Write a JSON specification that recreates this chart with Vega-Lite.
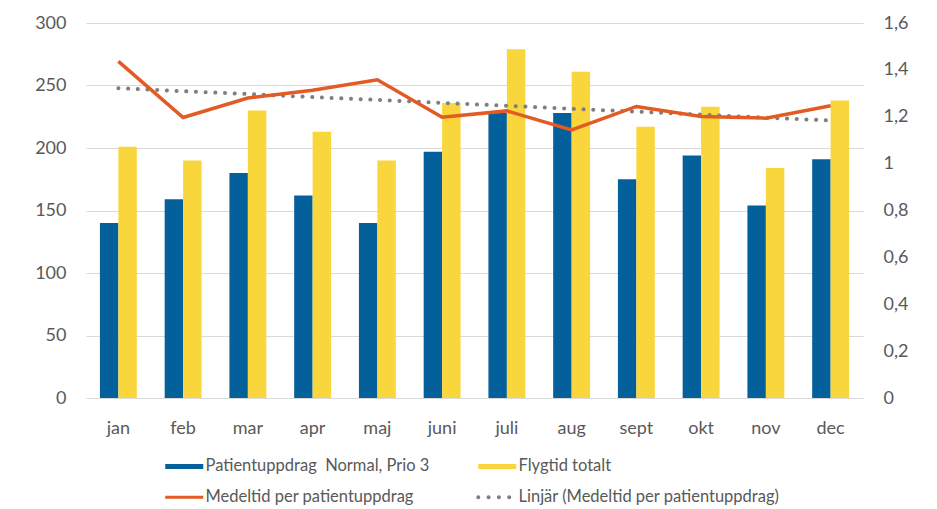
{
  "$schema": "https://vega.github.io/schema/vega-lite/v6.json",
  "width": 777,
  "height": 375,
  "autosize": "none",
  "padding": {"left": 86, "top": 23, "right": 74, "bottom": 111},
  "background": "white",
  "config": {
    "font": "Lato",
    "view": {"stroke": null},
    "axis": {"labelFont": "Lato", "labelColor": "#595959", "labelFontSize": 18}
  },
  "layer": [
    {
      "data": {
        "values": [
          {"month": "jan", "series": "Patientuppdrag\u00a0 Normal, Prio 3", "value": 140},
          {"month": "jan", "series": "Flygtid totalt", "value": 201},
          {"month": "feb", "series": "Patientuppdrag\u00a0 Normal, Prio 3", "value": 159},
          {"month": "feb", "series": "Flygtid totalt", "value": 190},
          {"month": "mar", "series": "Patientuppdrag\u00a0 Normal, Prio 3", "value": 180},
          {"month": "mar", "series": "Flygtid totalt", "value": 230},
          {"month": "apr", "series": "Patientuppdrag\u00a0 Normal, Prio 3", "value": 162},
          {"month": "apr", "series": "Flygtid totalt", "value": 213},
          {"month": "maj", "series": "Patientuppdrag\u00a0 Normal, Prio 3", "value": 140},
          {"month": "maj", "series": "Flygtid totalt", "value": 190},
          {"month": "juni", "series": "Patientuppdrag\u00a0 Normal, Prio 3", "value": 197},
          {"month": "juni", "series": "Flygtid totalt", "value": 236},
          {"month": "juli", "series": "Patientuppdrag\u00a0 Normal, Prio 3", "value": 228},
          {"month": "juli", "series": "Flygtid totalt", "value": 279},
          {"month": "aug", "series": "Patientuppdrag\u00a0 Normal, Prio 3", "value": 228},
          {"month": "aug", "series": "Flygtid totalt", "value": 261},
          {"month": "sept", "series": "Patientuppdrag\u00a0 Normal, Prio 3", "value": 175},
          {"month": "sept", "series": "Flygtid totalt", "value": 217},
          {"month": "okt", "series": "Patientuppdrag\u00a0 Normal, Prio 3", "value": 194},
          {"month": "okt", "series": "Flygtid totalt", "value": 233},
          {"month": "nov", "series": "Patientuppdrag\u00a0 Normal, Prio 3", "value": 154},
          {"month": "nov", "series": "Flygtid totalt", "value": 184},
          {"month": "dec", "series": "Patientuppdrag\u00a0 Normal, Prio 3", "value": 191},
          {"month": "dec", "series": "Flygtid totalt", "value": 238}
        ]
      },
      "mark": {"type": "bar"},
      "encoding": {
        "x": {
          "field": "month", "type": "nominal",
          "sort": ["jan", "feb", "mar", "apr", "maj", "juni", "juli", "aug", "sept", "okt", "nov", "dec"],
          "scale": {"paddingInner": 0.43, "paddingOuter": 0.215},
          "axis": {"title": null, "labelAngle": 0, "ticks": false, "domain": false, "labelPadding": 21}
        },
        "xOffset": {"field": "series", "type": "nominal", "sort": ["Patientuppdrag\u00a0 Normal, Prio 3", "Flygtid totalt"]},
        "y": {
          "field": "value", "type": "quantitative",
          "scale": {"domain": [0, 300]},
          "axis": {"title": null, "values": [0, 50, 100, 150, 200, 250, 300], "grid": true, "gridColor": "#d9d9d9", "ticks": false, "domain": false, "labelPadding": 20}
        },
        "color": {
          "field": "series", "type": "nominal",
          "scale": {
            "domain": ["Patientuppdrag\u00a0 Normal, Prio 3", "Flygtid totalt", "Medeltid per patientuppdrag", "Linjär (Medeltid per patientuppdrag)"],
            "range": ["#03609B", "#F9D63B", "#E35B24", "#7F7F7F"]
          },
          "legend": {
            "title": null,
            "orient": "none",
            "legendX": 90,
            "legendY": 435,
            "direction": "horizontal",
            "columns": 2,
            "gridAlign": "each",
            "columnPadding": 40,
            "rowPadding": 14,
            "padding": 0,
            "symbolSize": 400,
            "labelOffset": 13,
            "labelFont": "Lato",
            "labelFontSize": 16.5,
            "labelColor": "#595959",
            "labelLimit": 400,
            "encode": {
              "symbols": {
                "update": {
                  "shape": {"signal": "datum.value === 'Medeltid per patientuppdrag' ? 'M-1.9,0H1.9' : datum.value === 'Linjär (Medeltid per patientuppdrag)' ? 'M-1.9,0H1.25' : 'M-1.9,-0.25H1.9V0.25H-1.9Z'"},
                  "fill": {"signal": "(datum.value === 'Medeltid per patientuppdrag' || datum.value === 'Linjär (Medeltid per patientuppdrag)') ? 'transparent' : scale('color', datum.value)"},
                  "stroke": {"signal": "scale('color', datum.value)"},
                  "strokeWidth": {"signal": "datum.value === 'Medeltid per patientuppdrag' ? 3 : datum.value === 'Linjär (Medeltid per patientuppdrag)' ? 4 : 0"},
                  "strokeDash": {"signal": "datum.value === 'Linjär (Medeltid per patientuppdrag)' ? [0.1, 10.2] : [1, 0]"},
                  "strokeCap": {"signal": "datum.value === 'Linjär (Medeltid per patientuppdrag)' ? 'round' : 'butt'"},
                  "opacity": {"value": 1}
                }
              }
            }
          }
        }
      }
    },
    {
      "data": {
        "values": [
          {"month": "jan", "medeltid": 1.436, "trend": 1.322},
          {"month": "feb", "medeltid": 1.197, "trend": 1.309},
          {"month": "mar", "medeltid": 1.280, "trend": 1.297},
          {"month": "apr", "medeltid": 1.313, "trend": 1.284},
          {"month": "maj", "medeltid": 1.358, "trend": 1.272},
          {"month": "juni", "medeltid": 1.198, "trend": 1.259},
          {"month": "juli", "medeltid": 1.225, "trend": 1.247},
          {"month": "aug", "medeltid": 1.144, "trend": 1.234},
          {"month": "sept", "medeltid": 1.244, "trend": 1.222},
          {"month": "okt", "medeltid": 1.201, "trend": 1.209},
          {"month": "nov", "medeltid": 1.194, "trend": 1.196},
          {"month": "dec", "medeltid": 1.247, "trend": 1.184}
        ]
      },
      "layer": [
        {
          "mark": {"type": "line", "strokeWidth": 4, "strokeDash": [0.1, 9.6], "strokeCap": "round"},
          "encoding": {
            "x": {"field": "month", "type": "nominal", "sort": ["jan", "feb", "mar", "apr", "maj", "juni", "juli", "aug", "sept", "okt", "nov", "dec"]},
            "y": {
              "field": "trend", "type": "quantitative",
              "scale": {"domain": [0, 1.6]},
              "axis": {"orient": "right", "title": null, "values": [0, 0.2, 0.4, 0.6, 0.8, 1, 1.2, 1.4, 1.6], "grid": false, "ticks": false, "domain": false, "labelPadding": 20, "labelExpr": "replace(format(datum.value, '~g'), '.', ',')"}
            },
            "color": {"datum": "Linjär (Medeltid per patientuppdrag)"}
          }
        },
        {
          "mark": {"type": "line", "strokeWidth": 3.5},
          "encoding": {
            "x": {"field": "month", "type": "nominal", "sort": ["jan", "feb", "mar", "apr", "maj", "juni", "juli", "aug", "sept", "okt", "nov", "dec"]},
            "y": {"field": "medeltid", "type": "quantitative", "title": null},
            "color": {"datum": "Medeltid per patientuppdrag"}
          }
        }
      ]
    }
  ],
  "resolve": {"scale": {"y": "independent"}}
}
